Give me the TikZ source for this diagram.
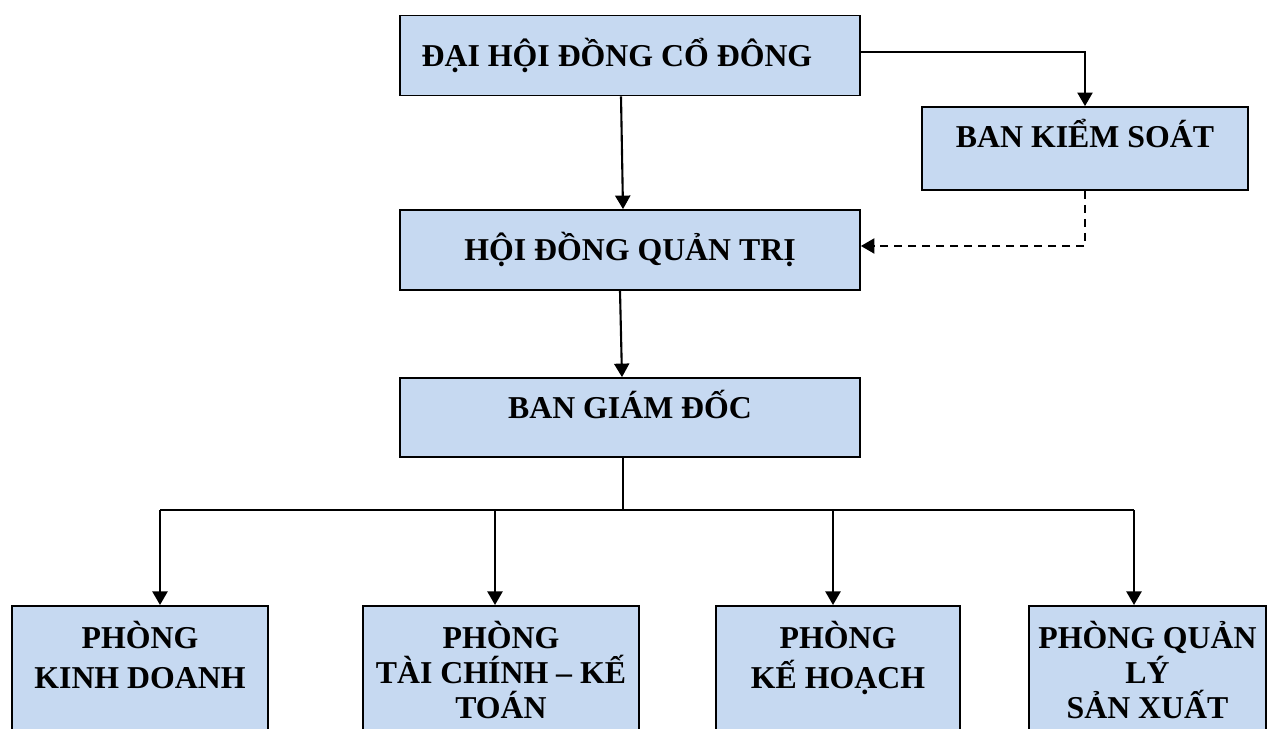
\documentclass[tikz,border=0pt]{standalone}
\usepackage{fontspec}
\setmainfont{Liberation Serif}
\usepackage{xcolor}
\usepackage{tikz}
\usetikzlibrary{arrows.meta, positioning, calc}

\definecolor{boxblue}{RGB}{198,217,241}
\newcommand{\deptbox}[2][4.7cm]{\parbox[c][3cm][t]{#1}{\centering\rule{0pt}{0.86cm}#2}}

\begin{document}
\begin{tikzpicture}[
    font=\fontsize{18.1}{19.9}\selectfont\bfseries,
    box/.style={rectangle,draw=black,line width=1pt,fill=boxblue,minimum width=9.2cm,minimum height=1.6cm,text height=0.43cm,text depth=0pt},
    dept/.style={rectangle,draw=black,line width=1pt,fill=boxblue,anchor=north,inner sep=0pt},
    arr/.style={-{Triangle[length=0.27cm,width=0.3cm]},line width=1.2pt}]
    \clip (0,0) rectangle (25.34,14.58);

    % Cap tren
    \node[box] (dhdcd) at (12.6,13.47) {\hspace*{-0.52cm}ĐẠI HỘI ĐỒNG CỔ ĐÔNG};
    \node[box,minimum width=6.52cm,minimum height=1.66cm,text depth=0.46cm] (bks) at (21.7,11.61) {BAN KIỂM SOÁT};
    \node[box] (hdqt) at (12.6,9.58) {HỘI ĐỒNG QUẢN TRỊ};
    \node[box,minimum height=1.58cm,text depth=0.38cm] (bgd) at (12.6,6.23) {BAN GIÁM ĐỐC};

    % Cac phong
    \node[dept,minimum width=5.12cm] (kd) at (2.8,2.48) {\deptbox{PHÒNG\\[0.1cm]KINH DOANH}};
    \node[dept,minimum width=5.52cm] (tckt) at (10.02,2.48) {\deptbox[5.4cm]{PHÒNG\\TÀI CHÍNH – KẾ\\TOÁN}};
    \node[dept,minimum width=4.88cm] (kh) at (16.76,2.48) {\deptbox{PHÒNG\\[0.1cm]KẾ HOẠCH}};
    \node[dept,minimum width=4.74cm] (qlsx) at (22.95,2.48) {\deptbox{PHÒNG QUẢN\\LÝ\\SẢN XUẤT}};

    % Mui ten
    \draw[arr] ([xshift=-0.18cm]dhdcd.south) -- ([xshift=-0.14cm]hdqt.north);
    \draw[arr] ([yshift=0.07cm]dhdcd.east) -| (bks.north);
    \draw[arr,dash pattern=on 0.16cm off 0.12cm] (bks.south) |- ([yshift=0.08cm]hdqt.east);
    \draw[arr] ([xshift=-0.2cm]hdqt.south) -- ([xshift=-0.16cm]bgd.north);

    % Thanh ngang
    \coordinate (bj) at (12.46,4.38);
    \coordinate (b1) at (3.2,4.38);
    \coordinate (b2) at (9.9,4.38);
    \coordinate (b3) at (16.66,4.38);
    \coordinate (b4) at (22.68,4.38);
    \draw[line width=1pt] (bj |- bgd.south) -- (bj);
    \draw[line width=1pt] (b1) -- (b4);
    \draw[arr] (b1) -- (b1 |- kd.north);
    \draw[arr] (b2) -- (b2 |- tckt.north);
    \draw[arr] (b3) -- (b3 |- kh.north);
    \draw[arr] (b4) -- (b4 |- qlsx.north);
\end{tikzpicture}
\end{document}
